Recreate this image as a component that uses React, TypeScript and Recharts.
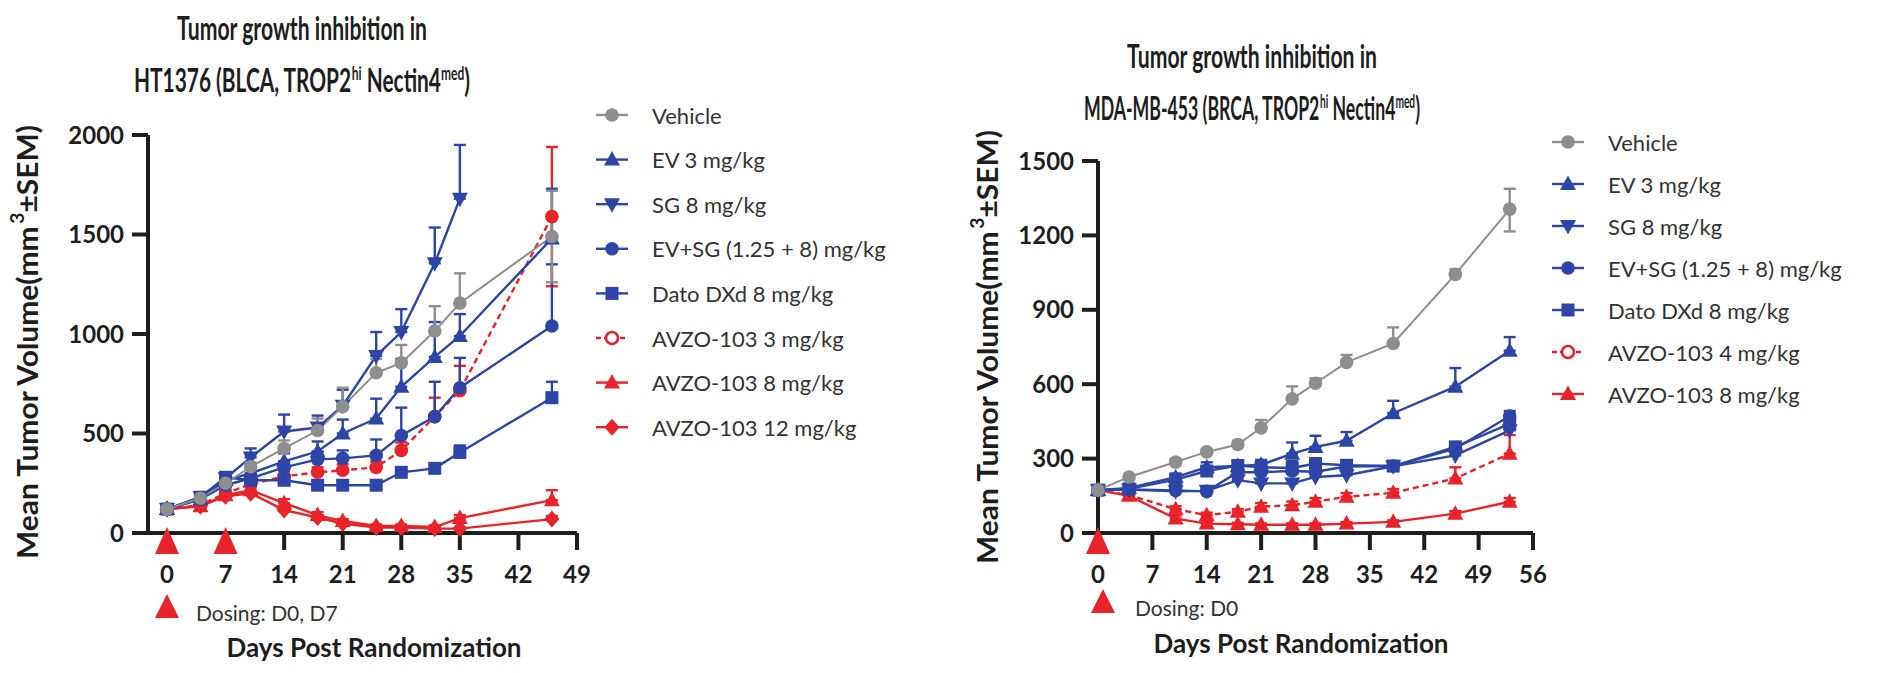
import React from 'react';
import { LineChart, Line, XAxis, YAxis, ErrorBar } from 'recharts';

const BLUE = '#2c45a6';
const GREY = '#8e8e8e';
const RED = '#e8232a';
const INK = '#1e1e1e';

// ---------- Left panel: HT1376 ----------
const daysL = [0, 4, 7, 10, 14, 18, 21, 25, 28, 32, 35, 46];
const vehicleL = [120, 175, 250, 333, 425, 515, 635, 805, 855, 1015, 1155, 1490];
const vehicleLUp = [8, 12, 18, 22, 40, 60, 95, 70, 90, 125, 150, 230];
const vehicleLDown = [0, 0, 0, 0, 0, 0, 0, 0, 0, 0, 0, 230];
const ev3L = [120, 170, 265, 300, 360, 410, 500, 575, 735, 885, 990, 1480];
const ev3LUp = [5, 15, 20, 30, 40, 50, 70, 100, 140, 175, 110, 250];
const sgL = [120, 180, 275, 380, 510, 530, 640, 890, 1010, 1355, 1680];
const sgLUp = [5, 15, 25, 45, 85, 60, 80, 120, 115, 180, 270];
const evsgL = [120, 170, 240, 275, 330, 370, 375, 390, 490, 585, 730, 1040];
const evsgLUp = [5, 10, 15, 20, 30, 35, 40, 80, 140, 175, 150, 310];
const datoL = [120, 180, 280, 265, 265, 240, 240, 240, 305, 325, 405, 680];
const datoLUp = [5, 10, 15, 15, 20, 20, 20, 20, 25, 25, 35, 80];
const avzo3L = [120, 140, 200, 245, 285, 305, 315, 330, 415, 585, 715, 1590];
const avzo3LUp = [5, 10, 15, 20, 25, 25, 30, 30, 40, 95, 125, 350];
const avzo3LDown = [0, 0, 0, 0, 0, 0, 0, 0, 0, 0, 0, 350];
const avzo8L = [120, 135, 190, 215, 150, 90, 60, 35, 35, 30, 75, 165];
const avzo8LUp = [5, 10, 10, 15, 20, 15, 10, 8, 8, 8, 15, 50];
const avzo12L = [120, 135, 185, 200, 115, 78, 48, 28, 28, 22, 22, 70];
const avzo12LUp = [5, 8, 10, 12, 15, 10, 8, 6, 6, 5, 5, 15];
const xTicksL = [0, 7, 14, 21, 28, 35, 42, 49];
const yTicksL = [0, 500, 1000, 1500, 2000];
const dosingDaysL = [0, 7];

// ---------- Right panel: MDA-MB-453 ----------
const daysR = [0, 4, 10, 14, 18, 21, 25, 28, 32, 38, 46, 53];
const vehicleR = [173, 226, 286, 327, 357, 424, 541, 604, 688, 764, 1043, 1306];
const vehicleRUp = [5, 8, 12, 12, 15, 32, 50, 20, 30, 65, 20, 82];
const vehicleRDown = [0, 0, 0, 0, 0, 0, 0, 0, 0, 0, 0, 90];
const ev3R = [173, 182, 225, 265, 270, 275, 320, 347, 372, 483, 590, 735];
const ev3RUp = [5, 8, 15, 20, 20, 20, 45, 45, 35, 50, 75, 55];
const sgR = [173, 175, 168, 170, 213, 200, 200, 226, 233, 269, 313, 414];
const sgRUp = [5, 5, 10, 10, 15, 15, 15, 15, 15, 15, 20, 25];
const evsgR = [173, 176, 172, 168, 245, 245, 250, 247, 268, 270, 340, 472];
const evsgRUp = [5, 5, 10, 10, 20, 25, 40, 20, 20, 15, 20, 20];
const datoR = [173, 178, 215, 250, 272, 265, 262, 280, 273, 270, 347, 440];
const datoRUp = [5, 5, 15, 15, 20, 20, 20, 20, 20, 15, 20, 25];
const avzo4R = [173, 153, 96, 72, 86, 106, 112, 126, 146, 162, 220, 320];
const avzo4RUp = [5, 8, 12, 10, 10, 15, 15, 15, 15, 15, 45, 75];
const avzo8R = [173, 150, 58, 38, 35, 33, 33, 33, 38, 45, 78, 126];
const avzo8RUp = [5, 8, 12, 8, 6, 6, 6, 6, 6, 6, 10, 15];
const xTicksR = [0, 7, 14, 21, 28, 35, 42, 49, 56];
const yTicksR = [0, 300, 600, 900, 1200, 1500];
const dosingDaysR = [0];

type Pt = { day: number; v: number; err: [number, number] };

function build(days: number[], vals: number[], up: number[], down?: number[]): Pt[] {
  return vals.map((v, i) => ({ day: days[i], v, err: [down ? down[i] : 0, up[i]] as [number, number] }));
}

type Shape = 'circle' | 'open' | 'up' | 'down' | 'square' | 'diamond';

function Marker({ shape, cx, cy, color }: { shape: Shape; cx: number; cy: number; color: string }) {
  switch (shape) {
    case 'circle':
      return <circle cx={cx} cy={cy} r={6.8} fill={color} />;
    case 'open':
      return <circle cx={cx} cy={cy} r={6} fill="#fff" stroke={color} strokeWidth={2.6} />;
    case 'up':
      return <polygon points={`${cx},${cy - 8.5} ${cx + 8},${cy + 6} ${cx - 8},${cy + 6}`} fill={color} />;
    case 'down':
      return <polygon points={`${cx - 8},${cy - 6} ${cx + 8},${cy - 6} ${cx},${cy + 8.5}`} fill={color} />;
    case 'square':
      return <rect x={cx - 6.5} y={cy - 6.5} width={13} height={13} fill={color} />;
    case 'diamond':
      return <polygon points={`${cx},${cy - 8.5} ${cx + 7.5},${cy} ${cx},${cy + 8.5} ${cx - 7.5},${cy}`} fill={color} />;
  }
  return null;
}

type Series = {
  name: string;
  data: Pt[];
  color: string;
  plotShape: Shape;
  legendShape: Shape;
  dash?: string;
  width: number;
};

const seriesL: Series[] = [
  { name: 'Vehicle', data: build(daysL, vehicleL, vehicleLUp, vehicleLDown), color: GREY, plotShape: 'circle', legendShape: 'circle', width: 2 },
  { name: 'EV 3 mg/kg', data: build(daysL, ev3L, ev3LUp), color: BLUE, plotShape: 'up', legendShape: 'up', width: 2.4 },
  { name: 'SG 8 mg/kg', data: build(daysL, sgL, sgLUp), color: BLUE, plotShape: 'down', legendShape: 'down', width: 2.4 },
  { name: 'EV+SG (1.25 + 8) mg/kg', data: build(daysL, evsgL, evsgLUp), color: BLUE, plotShape: 'circle', legendShape: 'circle', width: 2.4 },
  { name: 'Dato DXd 8 mg/kg', data: build(daysL, datoL, datoLUp), color: BLUE, plotShape: 'square', legendShape: 'square', width: 2.4 },
  { name: 'AVZO-103 3 mg/kg', data: build(daysL, avzo3L, avzo3LUp, avzo3LDown), color: RED, plotShape: 'circle', legendShape: 'open', dash: '6 4', width: 2.4 },
  { name: 'AVZO-103 8 mg/kg', data: build(daysL, avzo8L, avzo8LUp), color: RED, plotShape: 'up', legendShape: 'up', width: 2.4 },
  { name: 'AVZO-103 12 mg/kg', data: build(daysL, avzo12L, avzo12LUp), color: RED, plotShape: 'diamond', legendShape: 'diamond', width: 2.4 },
];

const seriesR: Series[] = [
  { name: 'Vehicle', data: build(daysR, vehicleR, vehicleRUp, vehicleRDown), color: GREY, plotShape: 'circle', legendShape: 'circle', width: 2 },
  { name: 'EV 3 mg/kg', data: build(daysR, ev3R, ev3RUp), color: BLUE, plotShape: 'up', legendShape: 'up', width: 2.4 },
  { name: 'SG 8 mg/kg', data: build(daysR, sgR, sgRUp), color: BLUE, plotShape: 'down', legendShape: 'down', width: 2.4 },
  { name: 'EV+SG (1.25 + 8) mg/kg', data: build(daysR, evsgR, evsgRUp), color: BLUE, plotShape: 'circle', legendShape: 'circle', width: 2.4 },
  { name: 'Dato DXd 8 mg/kg', data: build(daysR, datoR, datoRUp), color: BLUE, plotShape: 'square', legendShape: 'square', width: 2.4 },
  { name: 'AVZO-103 4 mg/kg', data: build(daysR, avzo4R, avzo4RUp), color: RED, plotShape: 'up', legendShape: 'open', dash: '6 4', width: 2.4 },
  { name: 'AVZO-103 8 mg/kg', data: build(daysR, avzo8R, avzo8RUp), color: RED, plotShape: 'up', legendShape: 'up', width: 2.4 },
];

const tickStyle = { fill: INK, fontSize: 24, fontFamily: 'Lato', fontWeight: 700 };
const axisStroke = { stroke: INK, strokeWidth: 4 };

function DosingTri(props: any) {
  const { cx, cy, index } = props;
  if (cx == null || cy == null) return <g key={`t${index}`} />;
  return <polygon key={`t${index}`} points={`${cx},${cy - 6} ${cx + 12},${cy + 21} ${cx - 12},${cy + 21}`} fill={RED} />;
}

function Panel({
  series, xDomain, xTicks, yDomain, yTicks, margin, dosing,
}: {
  series: Series[]; xDomain: [number, number]; xTicks: number[]; yDomain: [number, number]; yTicks: number[];
  margin: { top: number; right: number; bottom: number; left: number }; dosing: number[];
}) {
  const order = [...series].reverse();
  const dosingData = dosing.map((d) => ({ day: d, v: 0 }));
  return (
    <LineChart width={946} height={673} margin={margin} style={{ overflow: 'visible' }}>
      <XAxis
        type="number" dataKey="day" domain={xDomain} ticks={xTicks} interval={0}
        axisLine={axisStroke} tickLine={axisStroke} tickSize={17} tickMargin={16}
        tick={tickStyle} height={60}
      />
      <YAxis
        type="number" domain={yDomain} ticks={yTicks} interval={0}
        axisLine={axisStroke} tickLine={axisStroke} tickSize={16} tickMargin={8}
        tick={tickStyle} width={80}
      />
      {order.map((s, si) => (
        <Line
          key={s.name + si}
          data={s.data}
          dataKey="v"
          stroke={s.color}
          strokeWidth={s.width}
          strokeDasharray={s.dash}
          isAnimationActive={false}
          dot={(p: any) => (
            <g key={`d${si}-${p.index}`}>
              {p.cx != null && p.cy != null ? <Marker shape={s.plotShape} cx={p.cx} cy={p.cy} color={s.color} /> : null}
            </g>
          )}
          activeDot={false}
        >
          <ErrorBar dataKey="err" direction="y" width={6} strokeWidth={2.4} stroke={s.color} isAnimationActive={false} />
        </Line>
      ))}
      <Line
        data={dosingData}
        dataKey="v"
        stroke="none"
        isAnimationActive={false}
        dot={DosingTri}
        activeDot={false}
      />
    </LineChart>
  );
}

function Legend({ series, x, y0, step }: { series: Series[]; x: number; y0: number; step: number }) {
  return (
    <g>
      {series.map((s, i) => {
        const y = y0 + i * step;
        return (
          <g key={s.name + i}>
            <line x1={x - 16} x2={x + 16} y1={y} y2={y} stroke={s.color} strokeWidth={2.4} strokeDasharray={s.dash ? '5 3' : undefined} />
            <Marker shape={s.legendShape} cx={x} cy={y} color={s.color} />
            <text x={x + 40} y={y} dominantBaseline="central" fontFamily="Lato" fontSize={22} fill="#333">{s.name}</text>
          </g>
        );
      })}
    </g>
  );
}

// ---- measured multi-segment text (no tspans) ----
let measureCtx: CanvasRenderingContext2D | null = null;
function measure(t: string, size: number): number {
  try {
    if (!measureCtx) measureCtx = document.createElement('canvas').getContext('2d');
    if (measureCtx) {
      measureCtx.font = `700 ${size}px Lato`;
      return measureCtx.measureText(t).width;
    }
  } catch (e) {
    /* ignore */
  }
  return t.length * size * 0.55;
}

type Seg = { t: string; size: number; dy: number; space?: boolean };

function SegText({ segs, cx, cy, target, rotate, central }: {
  segs: Seg[]; cx: number; cy: number; target: number; rotate?: boolean; central?: boolean;
}) {
  const gaps = segs.map((s) => (s.space ? measure(' ', s.size) : 0));
  const widths = segs.map((s) => measure(s.t, s.size));
  const total = widths.reduce((a, b) => a + b, 0) + gaps.reduce((a, b) => a + b, 0);
  const sc = target / total;
  let x = -total / 2;
  const items = segs.map((s, i) => {
    x += gaps[i];
    const el = (
      <text
        key={i} x={x} y={s.dy} fontSize={s.size} fontFamily="Lato" fontWeight={700} fill={INK}
        dominantBaseline={central ? 'central' : undefined}
      >
        {s.t}
      </text>
    );
    x += widths[i];
    return el;
  });
  return <g transform={`translate(${cx},${cy})${rotate ? ' rotate(-90)' : ''} scale(${sc},1)`}>{items}</g>;
}

function Title({ cx, y1, y2, cell }: { cx: number; y1: number; y2: number; cell: string }) {
  const line2: Seg[] = [
    { t: cell + ' TROP2', size: 33, dy: 0 },
    { t: 'hi', size: 19, dy: -12 },
    { t: 'Nectin4', size: 33, dy: 0, space: true },
    { t: 'med', size: 19, dy: -12 },
    { t: ')', size: 33, dy: 0 },
  ];
  return (
    <g>
      <text x={cx} y={y1} textAnchor="middle" fontSize={33} textLength={250} lengthAdjust="spacingAndGlyphs" fontFamily="Lato" fontWeight={700} fill={INK}>
        Tumor growth inhibition in
      </text>
      <SegText segs={line2} cx={cx} cy={y2} target={336} />
    </g>
  );
}

function YLabel({ x, y }: { x: number; y: number }) {
  const segs: Seg[] = [
    { t: 'Mean Tumor Volume(mm', size: 28, dy: 0 },
    { t: '3', size: 18, dy: -10 },
    { t: '±SEM)', size: 28, dy: 0 },
  ];
  return <SegText segs={segs} cx={x} cy={y} target={434} rotate central />;
}

export default function App() {
  return (
    <div style={{ position: 'absolute', left: 0, top: 0, width: 1892, height: 673, background: '#fff', overflow: 'hidden' }}>
      <div style={{ position: 'absolute', left: 0, top: 0 }}>
        <Panel
          series={seriesL}
          xDomain={[-2.27, 49]}
          xTicks={xTicksL}
          yDomain={[0, 2000]}
          yTicks={yTicksL}
          margin={{ top: 135, right: 369, bottom: 80, left: 68 }}
          dosing={dosingDaysL}
        />
      </div>
      <div style={{ position: 'absolute', left: 946, top: 0 }}>
        <Panel
          series={seriesR}
          xDomain={[0, 56]}
          xTicks={xTicksR}
          yDomain={[0, 1500]}
          yTicks={yTicksR}
          margin={{ top: 161, right: 359, bottom: 80, left: 72 }}
          dosing={dosingDaysR}
        />
      </div>
      <svg width={1892} height={673} style={{ position: 'absolute', left: 0, top: 0, pointerEvents: 'none' }}>
        <Title cx={302} y1={40} y2={92} cell="HT1376 (BLCA," />
        <Title cx={1252} y1={68} y2={120} cell="MDA-MB-453 (BRCA," />
        <YLabel x={27} y={342} />
        <YLabel x={987} y={347} />
        <Legend series={seriesL} x={612} y0={115} step={44.6} />
        <Legend series={seriesR} x={1568} y0={142} step={42} />
        <polygon points="167,594 179,618 155,618" fill={RED} />
        <text x={196} y={612} dominantBaseline="central" fontFamily="Lato" fontSize={21} fill="#333">Dosing: D0, D7</text>
        <polygon points="1103,589 1115,613 1091,613" fill={RED} />
        <text x={1135} y={607} dominantBaseline="central" fontFamily="Lato" fontSize={21} fill="#333">Dosing: D0</text>
        <text x={374} y={657} textAnchor="middle" fontFamily="Lato" fontWeight={700} fontSize={26} fill={INK}>Days Post Randomization</text>
        <text x={1301} y={653} textAnchor="middle" fontFamily="Lato" fontWeight={700} fontSize={26} fill={INK}>Days Post Randomization</text>
      </svg>
    </div>
  );
}
